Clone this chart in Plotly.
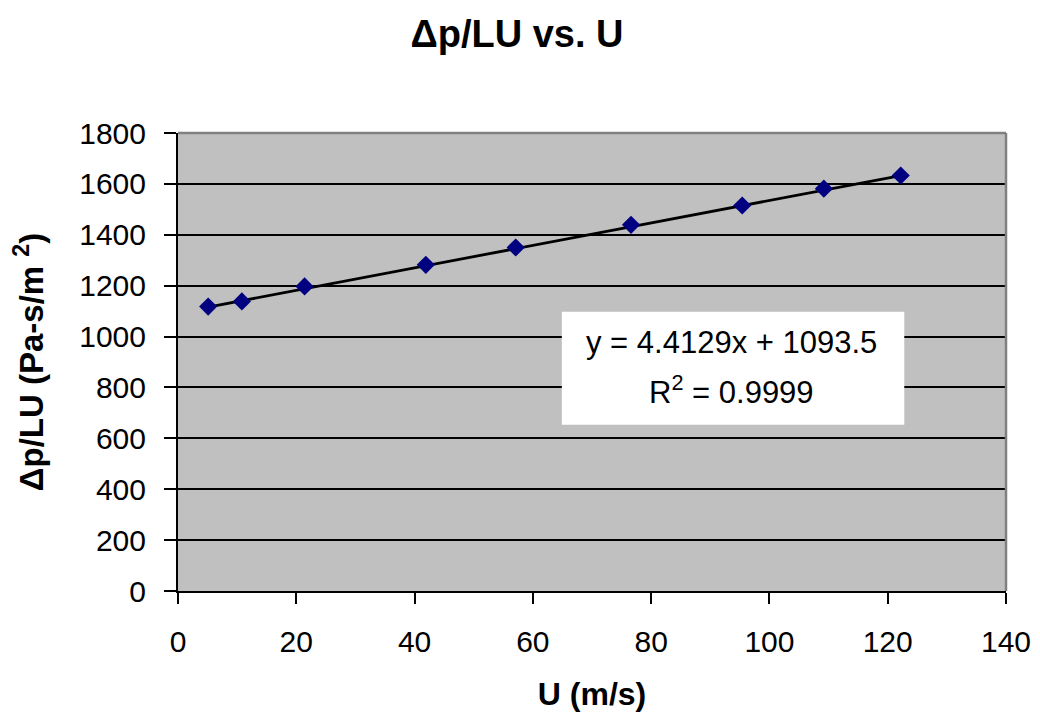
import plotly.graph_objects as go

# Data
u_values = [5.1, 10.8, 21.4, 41.9, 57.1, 76.6, 95.4, 109.2, 122.2]
dp_lu_values = [1118, 1138, 1197, 1282, 1350, 1439, 1515, 1581, 1633]

# Linear trendline (as shown on chart)
slope = 4.4129
intercept = 1093.5
r_squared = 0.9999

x_ticks = [0, 20, 40, 60, 80, 100, 120, 140]
y_ticks = [0, 200, 400, 600, 800, 1000, 1200, 1400, 1600, 1800]

FONT = "Liberation Sans, Arial, sans-serif"

trend_x = [min(u_values), max(u_values)]
trend_y = [slope * v + intercept for v in trend_x]

fig = go.Figure()
fig.add_trace(go.Scatter(
    x=trend_x, y=trend_y, mode="lines",
    line=dict(color="black", width=2.8),
    showlegend=False, hoverinfo="skip"))
fig.add_trace(go.Scatter(
    x=u_values, y=dp_lu_values, mode="markers",
    marker=dict(symbol="diamond", size=14, color="#000080"),
    showlegend=False, hoverinfo="x+y"))

# white equation box
fig.add_shape(type="rect", xref="x", yref="y", x0=64.9, x1=122.8, y0=653, y1=1097,
              fillcolor="white", line=dict(width=0), layer="above")
fig.add_annotation(x=93.6, y=975, xref="x", yref="y",
                   text=f"y = {slope}x + {intercept}", showarrow=False,
                   font=dict(family=FONT, size=31, color="black"))
fig.add_annotation(x=93.6, y=790, xref="x", yref="y",
                   text=f"R<sup>2</sup> = {r_squared}", showarrow=False,
                   font=dict(family=FONT, size=31, color="black"))

# gray top/right border
fig.add_shape(type="line", xref="paper", yref="paper", x0=0, x1=1, y0=1, y1=1,
              line=dict(color="#808080", width=2.5), layer="above")
fig.add_shape(type="line", xref="paper", yref="paper", x0=1, x1=1, y0=0, y1=1,
              line=dict(color="#808080", width=2.5), layer="above")

fig.update_layout(
    width=1040, height=721,
    paper_bgcolor="white", plot_bgcolor="#C0C0C0",
    margin=dict(l=167, r=42, t=125, b=138),
    font=dict(family=FONT, color="black"),
    title=dict(text="<b>Δp/LU vs. U</b>", x=509 / 1040, xref="container", xanchor="center",
               y=1 - 26 / 721, yref="container", yanchor="middle",
               font=dict(family=FONT, size=38, color="black")),
)
fig.update_xaxes(
    range=[0, 140], tickvals=x_ticks, ticks="outside", ticklen=11, tickwidth=2,
    tickcolor="black", showline=True, linecolor="black", linewidth=2,
    showgrid=False, zeroline=False, ticklabelstandoff=12,
    tickfont=dict(family=FONT, size=30, color="black"),
    title=dict(text="<b>U (m/s)</b>", standoff=26,
               font=dict(family=FONT, size=32, color="black")))
fig.update_yaxes(
    range=[0, 1800], tickvals=y_ticks, ticks="outside", ticklen=12, tickwidth=2,
    tickcolor="black", showline=True, linecolor="black", linewidth=2,
    showgrid=True, gridcolor="black", gridwidth=1.8, zeroline=False,
    ticklabelstandoff=12,
    tickfont=dict(family=FONT, size=30, color="black"),
    title=dict(text="<b>Δp/LU (Pa-s/m <sup>2</sup>)</b>", standoff=36,
               font=dict(family=FONT, size=33, color="black")))

fig.write_html("out.html")
